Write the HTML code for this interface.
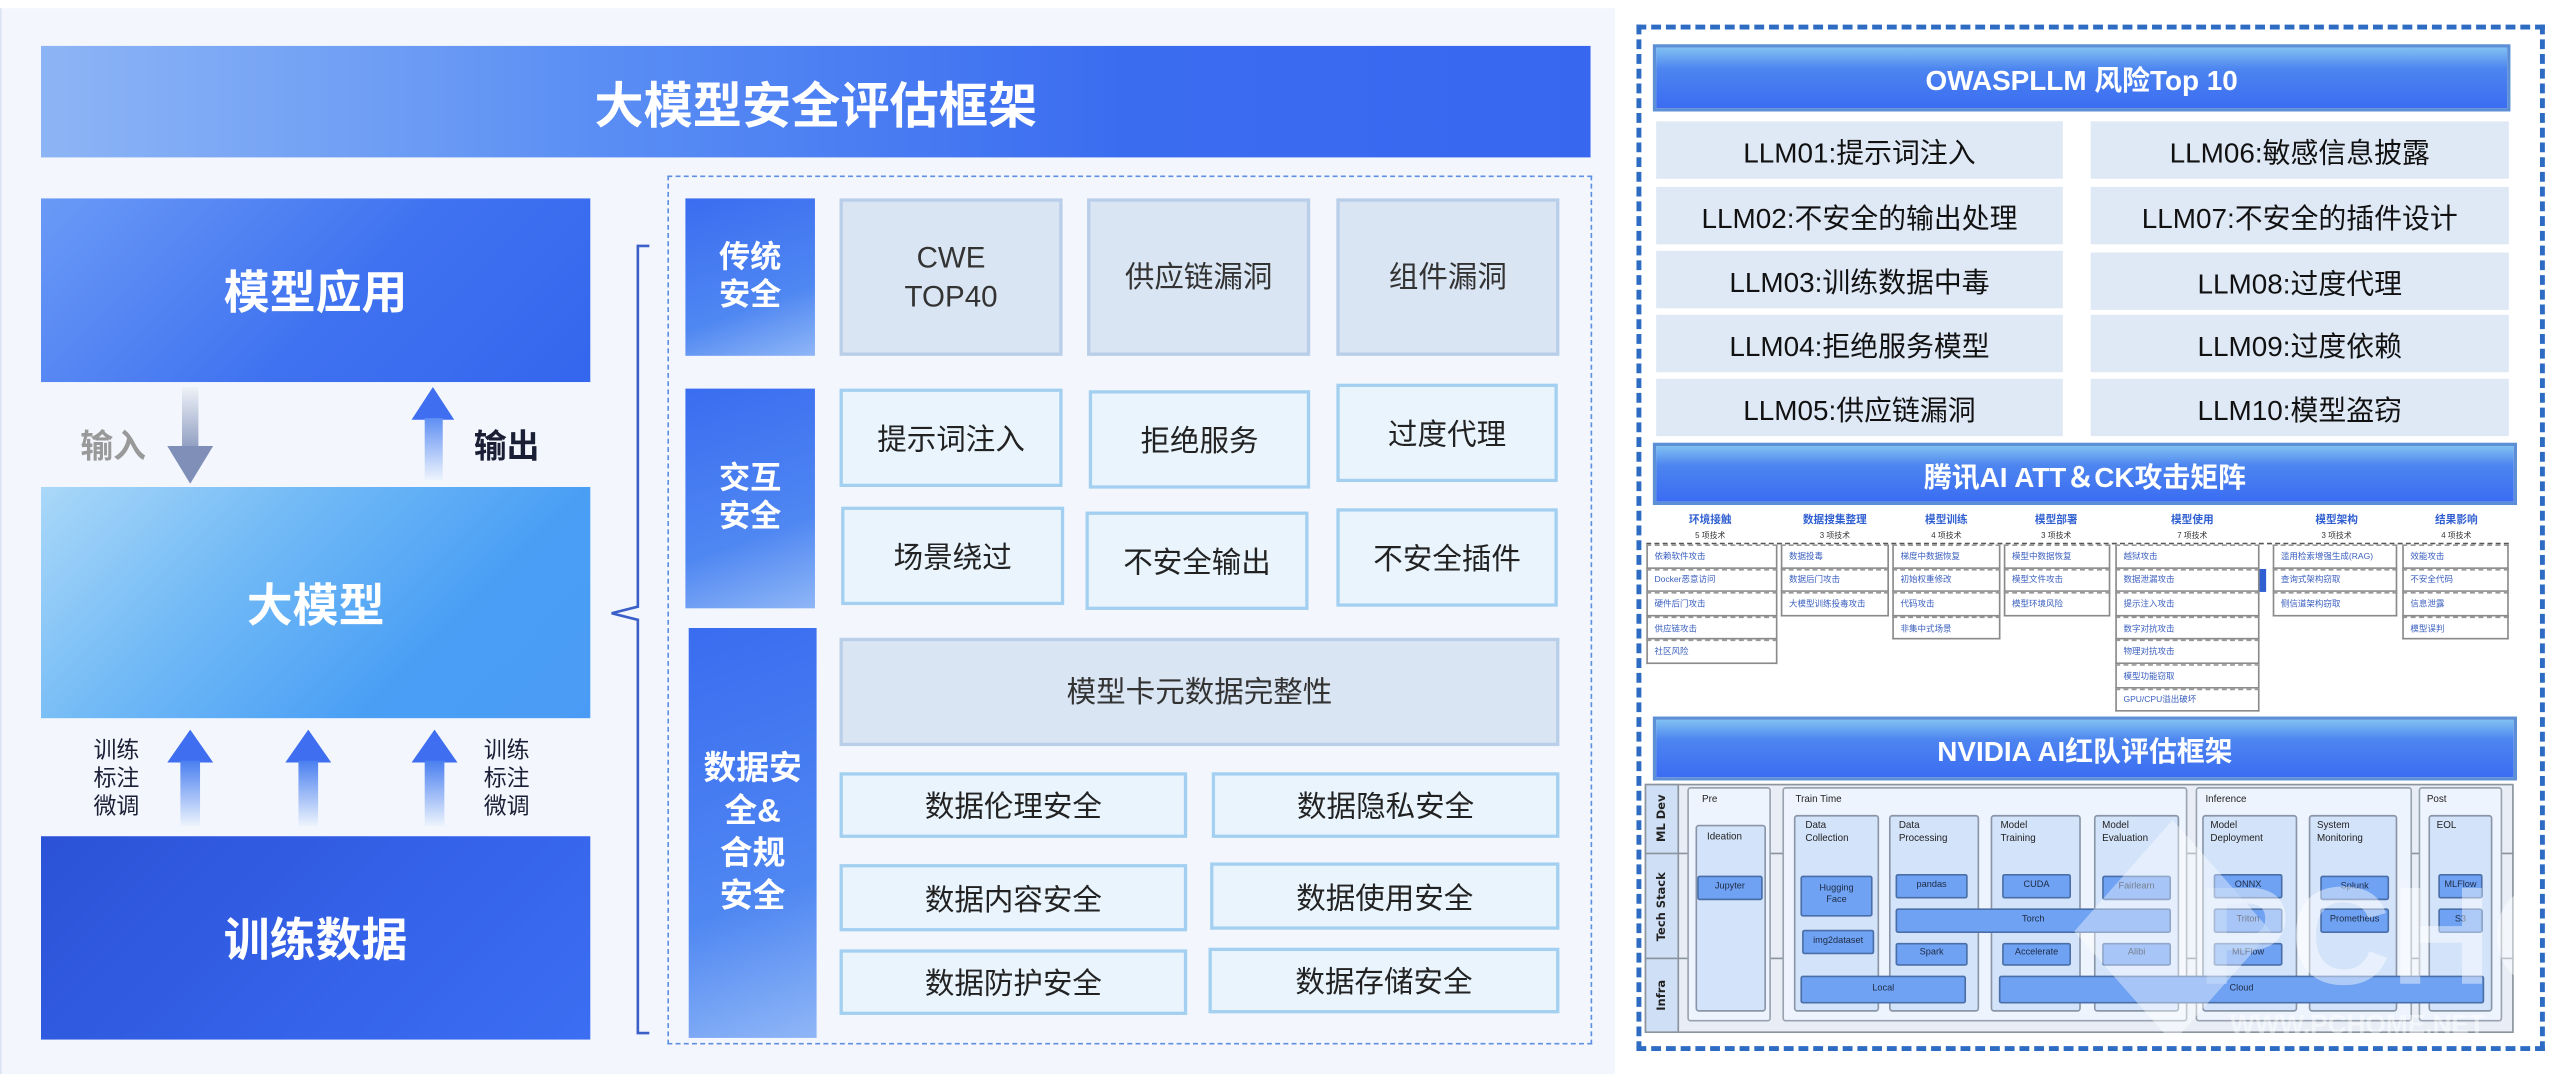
<!DOCTYPE html>
<html><head><meta charset="utf-8">
<style>
html,body{margin:0;padding:0;background:#fff;overflow:hidden;width:2558px;height:1074px}
#w{position:absolute;left:0;top:0;width:1560px;height:655px;transform:scale(1.63974,1.63969);transform-origin:0 0;font-family:"Liberation Sans","Noto Sans CJK SC",sans-serif}
#w div{position:absolute;box-sizing:border-box}
.f{display:flex;align-items:center;justify-content:center;text-align:center}
.rl{color:#fff;font-weight:bold;font-size:19px;line-height:23px;background:linear-gradient(160deg,#3a6cf0 0%,#4f87f2 65%,#8fb6f6 100%)}
.g1{background:#dae5f3;border:2px solid #b9cee9;color:#333;font-size:18px;line-height:24px}
.g2{background:#e9f4fd;border:2px solid #a3d0f0;color:#222;font-size:18px}
.llm{background:#dfe8f5;color:#111;font-size:17px}
.hb{border:2px solid #5d8fd6;background:linear-gradient(180deg,#80c0f2 0%,#4d85f0 35%,#3b6cf2 100%);color:#fff;font-weight:bold}
.th{color:#2f5fd0;font-weight:bold;font-size:6.5px;text-align:center;width:90px}
.tn{color:#333;font-size:4.8px;text-align:center;width:90px}
.tc{border:0.6px solid #8a8a8a;border-top:0.6px dashed #999;background:#fff;color:#3a5fbf;font-size:5.2px;display:flex;align-items:center;padding-left:4px;white-space:nowrap}
.sec{background:#eef4fd;border:0.8px solid #9aa3b0;border-radius:2px}
.sub{background:#d3e3f9;border:0.8px solid #8a96a8;border-radius:2px}
.st{font-size:6px;color:#222;line-height:7.5px}
.bt{background:#6fa2f2;border:0.8px solid #4a6fa8;border-radius:1.5px;font-size:5.6px;color:#1e2a44;display:flex;align-items:center;justify-content:center;text-align:center;line-height:7px}
.ar{width:0;height:0;border-left:14px solid transparent;border-right:14px solid transparent;border-bottom:20px solid #3f6ff0}
.sh{width:12px;background:linear-gradient(180deg,#4a7ff0,#eef4fd)}
</style></head><body><div id="w">
<!-- left panel bg -->
<div style="left:0;top:5px;width:985px;height:650px;background:#f3f7fd;border-left:1px solid #dbe4f2"></div>
<div class="f" style="left:25px;top:28px;width:945px;height:68px;background:linear-gradient(90deg,#8db5f5 0%,#5b8ff4 35%,#3a6cf0 70%,#3867ef 100%);color:#fff;font-weight:bold;font-size:30px">大模型安全评估框架</div>

<div class="f" style="left:25px;top:121px;width:335px;height:112px;background:linear-gradient(135deg,#6a9af6 0%,#3f72f0 55%,#3466ee 100%);color:#fff;font-weight:bold;font-size:28px">模型应用</div>
<div class="f" style="left:25px;top:297px;width:335px;height:141px;background:linear-gradient(135deg,#aad8f8 0%,#72baf6 35%,#4a9ff5 70%,#4a9bf5 100%);color:#fff;font-weight:bold;font-size:28px">大模型</div>
<div class="f" style="left:25px;top:510px;width:335px;height:124px;background:linear-gradient(135deg,#2b52d6 0%,#3563ea 60%,#3b6ef2 100%);color:#fff;font-weight:bold;font-size:28px">训练数据</div>

<!-- input arrow -->
<div style="left:111px;top:236px;width:10px;height:38px;background:linear-gradient(180deg,#eef2f8,#8e9cc0)"></div>
<div style="left:102px;top:272px;width:0;height:0;border-left:14px solid transparent;border-right:14px solid transparent;border-top:23px solid #7f8fb8"></div>
<div style="left:49px;top:256px;font-size:20px;color:#999;font-weight:bold">输入</div>
<!-- output arrow -->
<div class="ar" style="left:251px;top:236px;border-bottom-color:#3f6ff0;border-left-width:13.5px;border-right-width:13.5px"></div>
<div style="left:259px;top:255px;width:11px;height:38px;background:linear-gradient(180deg,#5f8ff3,#eef4fd)"></div>
<div style="left:289px;top:256px;font-size:20px;color:#1a1f36;font-weight:bold">输出</div>
<!-- up arrows bottom -->
<div class="ar" style="left:102px;top:445px"></div><div class="sh" style="left:110px;top:464px;height:40px"></div>
<div class="ar" style="left:174px;top:445px"></div><div class="sh" style="left:182px;top:464px;height:40px"></div>
<div class="ar" style="left:251px;top:445px"></div><div class="sh" style="left:259px;top:464px;height:40px"></div>
<div style="left:57px;top:449px;font-size:14px;line-height:17px;color:#1a1f36">训练<br>标注<br>微调</div>
<div style="left:295px;top:449px;font-size:14px;line-height:17px;color:#1a1f36">训练<br>标注<br>微调</div>

<!-- brace -->
<svg style="position:absolute;left:368px;top:148px" width="32" height="486"><path d="M28 2 H21 V222 L5 226 L21 230 V482 H28" fill="none" stroke="#3b5fc8" stroke-width="1.6"/></svg>

<!-- dashed frame -->
<div style="left:407px;top:107px;width:564px;height:530px;border:1.5px dashed #5f8fe0"></div>

<div class="f rl" style="left:418px;top:121px;width:79px;height:96px">传统<br>安全</div>
<div class="f rl" style="left:418px;top:237px;width:79px;height:134px">交互<br>安全</div>
<div class="f rl" style="left:420px;top:383px;width:78px;height:250px;font-size:20px;line-height:26px">数据安<br>全&amp;<br>合规<br>安全</div>

<div class="f g1" style="left:512px;top:121px;width:136px;height:96px">CWE<br>TOP40</div>
<div class="f g1" style="left:663px;top:121px;width:136px;height:96px">供应链漏洞</div>
<div class="f g1" style="left:815px;top:121px;width:136px;height:96px">组件漏洞</div>

<div class="f g2" style="left:512px;top:237px;width:136px;height:60px">提示词注入</div>
<div class="f g2" style="left:664px;top:238px;width:135px;height:60px">拒绝服务</div>
<div class="f g2" style="left:815px;top:234px;width:135px;height:60px">过度代理</div>
<div class="f g2" style="left:513px;top:309px;width:136px;height:60px">场景绕过</div>
<div class="f g2" style="left:662px;top:312px;width:136px;height:60px">不安全输出</div>
<div class="f g2" style="left:815px;top:310px;width:135px;height:60px">不安全插件</div>

<div class="f g1" style="left:512px;top:389px;width:439px;height:66px">模型卡元数据完整性</div>
<div class="f g2" style="left:512px;top:471px;width:212px;height:40px">数据伦理安全</div>
<div class="f g2" style="left:739px;top:471px;width:212px;height:40px">数据隐私安全</div>
<div class="f g2" style="left:512px;top:527px;width:212px;height:41px">数据内容安全</div>
<div class="f g2" style="left:738px;top:526px;width:213px;height:41px">数据使用安全</div>
<div class="f g2" style="left:512px;top:579px;width:212px;height:40px">数据防护安全</div>
<div class="f g2" style="left:737px;top:578px;width:214px;height:40px">数据存储安全</div>

<!-- right panel -->
<div style="left:998px;top:15px;width:554px;height:626px;border:3px dashed #2e6cc4"></div>
<div class="f hb" style="left:1008px;top:27px;width:523px;height:41px;font-size:17px">OWASPLLM 风险Top 10</div>

<div class="f llm" style="left:1010px;top:74px;width:248px;height:35px">LLM01:提示词注入</div>
<div class="f llm" style="left:1275px;top:74px;width:255px;height:35px">LLM06:敏感信息披露</div>
<div class="f llm" style="left:1010px;top:114px;width:248px;height:35px">LLM02:不安全的输出处理</div>
<div class="f llm" style="left:1275px;top:114px;width:255px;height:35px">LLM07:不安全的插件设计</div>
<div class="f llm" style="left:1010px;top:153px;width:248px;height:35px">LLM03:训练数据中毒</div>
<div class="f llm" style="left:1275px;top:154px;width:255px;height:35px">LLM08:过度代理</div>
<div class="f llm" style="left:1010px;top:192px;width:248px;height:35px">LLM04:拒绝服务模型</div>
<div class="f llm" style="left:1275px;top:192px;width:255px;height:35px">LLM09:过度依赖</div>
<div class="f llm" style="left:1010px;top:231px;width:248px;height:35px">LLM05:供应链漏洞</div>
<div class="f llm" style="left:1275px;top:231px;width:255px;height:35px">LLM10:模型盗窃</div>

<div class="f hb" style="left:1008px;top:270px;width:527px;height:38px;font-size:17px">腾讯AI ATT＆CK攻击矩阵</div>

<!-- tencent table -->
<div class="th" style="left:998px;top:311px">环境接触</div><div class="tn" style="left:998px;top:323px">5 项技术</div>
<div class="th" style="left:1074px;top:311px">数据搜集整理</div><div class="tn" style="left:1074px;top:323px">3 项技术</div>
<div class="th" style="left:1142px;top:311px">模型训练</div><div class="tn" style="left:1142px;top:323px">4 项技术</div>
<div class="th" style="left:1209px;top:311px">模型部署</div><div class="tn" style="left:1209px;top:323px">3 项技术</div>
<div class="th" style="left:1292px;top:311px">模型使用</div><div class="tn" style="left:1292px;top:323px">7 项技术</div>
<div class="th" style="left:1380px;top:311px">模型架构</div><div class="tn" style="left:1380px;top:323px">3 项技术</div>
<div class="th" style="left:1453px;top:311px">结果影响</div><div class="tn" style="left:1453px;top:323px">4 项技术</div>
<div style="left:1004px;top:331px;width:526px;height:0;border-top:0.8px dashed #555"></div>

<div class="tc" style="left:1004px;top:332px;width:80px;height:14.6px">依赖软件攻击</div>
<div class="tc" style="left:1004px;top:346.6px;width:80px;height:14.6px">Docker恶意访问</div>
<div class="tc" style="left:1004px;top:361.2px;width:80px;height:14.6px">硬件后门攻击</div>
<div class="tc" style="left:1004px;top:375.8px;width:80px;height:14.6px">供应链攻击</div>
<div class="tc" style="left:1004px;top:390.4px;width:80px;height:14.6px">社区风险</div>

<div class="tc" style="left:1086px;top:332px;width:66px;height:14.6px">数据投毒</div>
<div class="tc" style="left:1086px;top:346.6px;width:66px;height:14.6px">数据后门攻击</div>
<div class="tc" style="left:1086px;top:361.2px;width:66px;height:14.6px">大模型训练投毒攻击</div>

<div class="tc" style="left:1154px;top:332px;width:66px;height:14.6px">梯度中数据恢复</div>
<div class="tc" style="left:1154px;top:346.6px;width:66px;height:14.6px">初始权重修改</div>
<div class="tc" style="left:1154px;top:361.2px;width:66px;height:14.6px">代码攻击</div>
<div class="tc" style="left:1154px;top:375.8px;width:66px;height:14.6px">非集中式场景</div>

<div class="tc" style="left:1222px;top:332px;width:65px;height:14.6px">模型中数据恢复</div>
<div class="tc" style="left:1222px;top:346.6px;width:65px;height:14.6px">模型文件攻击</div>
<div class="tc" style="left:1222px;top:361.2px;width:65px;height:14.6px">模型环境风险</div>

<div class="tc" style="left:1290px;top:332px;width:88px;height:14.6px">越狱攻击</div>
<div class="tc" style="left:1290px;top:346.6px;width:88px;height:14.6px">数据泄漏攻击</div>
<div class="tc" style="left:1290px;top:361.2px;width:88px;height:14.6px">提示注入攻击</div>
<div class="tc" style="left:1290px;top:375.8px;width:88px;height:14.6px">数字对抗攻击</div>
<div class="tc" style="left:1290px;top:390.4px;width:88px;height:14.6px">物理对抗攻击</div>
<div class="tc" style="left:1290px;top:405px;width:88px;height:14.6px">模型功能窃取</div>
<div class="tc" style="left:1290px;top:419.6px;width:88px;height:14.6px">GPU/CPU溢出破坏</div>
<div style="left:1378px;top:346.6px;width:4px;height:14px;background:#2f5fd0"></div>

<div class="tc" style="left:1386px;top:332px;width:76px;height:14.6px">滥用检索增强生成(RAG)</div>
<div class="tc" style="left:1386px;top:346.6px;width:76px;height:14.6px">查询式架构窃取</div>
<div class="tc" style="left:1386px;top:361.2px;width:76px;height:14.6px">侧信道架构窃取</div>

<div class="tc" style="left:1465px;top:332px;width:65px;height:14.6px">效能攻击</div>
<div class="tc" style="left:1465px;top:346.6px;width:65px;height:14.6px">不安全代码</div>
<div class="tc" style="left:1465px;top:361.2px;width:65px;height:14.6px">信息泄露</div>
<div class="tc" style="left:1465px;top:375.8px;width:65px;height:14.6px">模型误判</div>

<div class="f hb" style="left:1008px;top:437px;width:527px;height:39px;font-size:17px">NVIDIA AI红队评估框架</div>

<!-- nvidia grid -->
<div style="left:1003px;top:478px;width:530px;height:152px;background:#e9eef6;border:1px solid #8b939e"></div>
<div style="left:1003px;top:478px;width:21px;height:152px;background:#cfdff5;border:0.8px solid #8b939e"></div>
<div style="left:1003px;top:519.7px;width:530px;height:0;border-top:0.8px solid #8b939e"></div>
<div style="left:1003px;top:584.3px;width:530px;height:0;border-top:0.8px solid #8b939e"></div>
<div class="f" style="left:998px;top:490px;width:31px;height:18px;transform:rotate(-90deg);font-size:7px;font-weight:bold;color:#222;font-family:'DejaVu Sans',sans-serif">ML Dev</div>
<div class="f" style="left:988px;top:544px;width:51px;height:18px;transform:rotate(-90deg);font-size:7px;font-weight:bold;color:#222;font-family:'DejaVu Sans',sans-serif">Tech Stack</div>
<div class="f" style="left:998px;top:598px;width:31px;height:18px;transform:rotate(-90deg);font-size:7px;font-weight:bold;color:#222;font-family:'DejaVu Sans',sans-serif">Infra</div>

<div class="sec" style="left:1029px;top:480px;width:51px;height:143px"></div>
<div class="st" style="left:1038px;top:485px">Pre</div>
<div class="sec" style="left:1087px;top:480px;width:247px;height:143px"></div>
<div class="st" style="left:1095px;top:485px">Train Time</div>
<div class="sec" style="left:1339px;top:480px;width:132px;height:143px"></div>
<div class="st" style="left:1345px;top:485px">Inference</div>
<div class="sec" style="left:1475px;top:480px;width:51px;height:143px"></div>
<div class="st" style="left:1480px;top:485px">Post</div>

<div class="sub" style="left:1034px;top:503px;width:43px;height:114px"></div><div class="st" style="left:1041px;top:508px">Ideation</div>
<div class="sub" style="left:1094px;top:496.5px;width:52px;height:120px"></div><div class="st" style="left:1101px;top:501px">Data<br>Collection</div>
<div class="sub" style="left:1152px;top:496.5px;width:55px;height:120px"></div><div class="st" style="left:1158px;top:501px">Data<br>Processing</div>
<div class="sub" style="left:1214px;top:496.5px;width:55px;height:120px"></div><div class="st" style="left:1220px;top:501px">Model<br>Training</div>
<div class="sub" style="left:1277px;top:496.5px;width:52px;height:120px"></div><div class="st" style="left:1282px;top:501px">Model<br>Evaluation</div>
<div class="sub" style="left:1343px;top:496.5px;width:58px;height:120px"></div><div class="st" style="left:1348px;top:501px">Model<br>Deployment</div>
<div class="sub" style="left:1408px;top:496.5px;width:54px;height:120px"></div><div class="st" style="left:1413px;top:501px">System<br>Monitoring</div>
<div class="sub" style="left:1481px;top:496.5px;width:39px;height:120px"></div><div class="st" style="left:1486px;top:501px">EOL</div>

<div class="bt" style="left:1035px;top:534px;width:40px;height:14.6px">Jupyter</div>
<div class="bt" style="left:1098px;top:534px;width:44px;height:24.5px">Hugging<br>Face</div>
<div class="bt" style="left:1099px;top:567px;width:44px;height:15px">img2dataset</div>
<div class="bt" style="left:1156px;top:533.4px;width:44px;height:14.6px">pandas</div>
<div class="bt" style="left:1221px;top:533.4px;width:42px;height:14.6px">CUDA</div>
<div class="bt" style="left:1282px;top:534px;width:42px;height:14.6px">Fairlearn</div>
<div class="bt" style="left:1156px;top:554px;width:168px;height:14.6px">Torch</div>
<div class="bt" style="left:1156px;top:574.6px;width:44px;height:14.6px">Spark</div>
<div class="bt" style="left:1221px;top:574.6px;width:42px;height:14.6px">Accelerate</div>
<div class="bt" style="left:1282px;top:574.6px;width:42px;height:14.6px">Alibi</div>
<div class="bt" style="left:1350px;top:533.4px;width:42px;height:14.6px">ONNX</div>
<div class="bt" style="left:1350px;top:554px;width:42px;height:14.6px">Triton</div>
<div class="bt" style="left:1350px;top:574.6px;width:42px;height:14.6px">MLFlow</div>
<div class="bt" style="left:1415px;top:534px;width:42px;height:14.6px">Splunk</div>
<div class="bt" style="left:1415px;top:554px;width:42px;height:14.6px">Prometheus</div>
<div class="bt" style="left:1487px;top:533.4px;width:27px;height:14.6px">MLFlow</div>
<div class="bt" style="left:1487px;top:554px;width:27px;height:14.6px">S3</div>
<div class="bt" style="left:1098px;top:595px;width:101px;height:16.5px">Local</div>
<div class="bt" style="left:1219px;top:595px;width:296px;height:16.5px">Cloud</div>

<!-- faint watermark -->
<svg style="position:absolute;left:1265px;top:500px;opacity:0.55" width="270" height="140"><polygon points="60,0 120,68 60,136 0,68" fill="#ffffff" opacity="0.7"/><text x="75" y="100" font-family="Liberation Sans" font-weight="bold" font-size="85" fill="#ffffff" opacity="0.8">PCHOM</text><text x="95" y="130" font-family="Liberation Sans" font-weight="bold" font-size="16" fill="#ffffff" opacity="0.8">WWW.PCHOME.NET</text></svg>
</div></body></html>
